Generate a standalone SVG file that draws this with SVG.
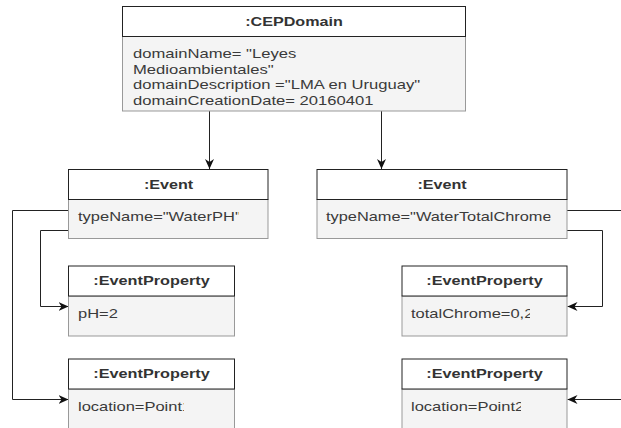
<svg xmlns="http://www.w3.org/2000/svg" width="621" height="428" viewBox="0 0 621 428">
<style>
.hd{fill:#ffffff;stroke:#222222;stroke-width:1}
.bd{fill:#f4f4f4;stroke:#999999;stroke-width:1}
.t{font-family:"Liberation Sans",Arial,sans-serif;font-size:12.5px;fill:#3a3a3a}
.h{font-weight:bold;text-anchor:middle;fill:#333333}
.c{fill:none;stroke:#222222;stroke-width:1}
</style>
<defs>
<marker id="arr" viewBox="0 0 10 9" refX="10" refY="4.5" markerWidth="10" markerHeight="9" orient="auto" markerUnits="userSpaceOnUse">
<path d="M0,0 L10,4.5 L0,9 L3,4.5 z" fill="#111111"/>
</marker>
<clipPath id="cEL"><rect x="60" y="200" width="179" height="38"/></clipPath>
<clipPath id="cER"><rect x="310" y="200" width="240.5" height="38"/></clipPath>
<clipPath id="cPL2"><rect x="60" y="390" width="124" height="38"/></clipPath>
<clipPath id="cPR1"><rect x="400" y="297" width="130" height="38"/></clipPath>
<clipPath id="cPR2"><rect x="400" y="390" width="121" height="38"/></clipPath>
</defs>

<g id="connectors">
<path class="c" d="M209.5,111 V169" marker-end="url(#arr)"/>
<path class="c" d="M381.5,111 V169" marker-end="url(#arr)"/>
<path class="c" d="M68.5,210.5 H12.5 V399.5 H68.5" marker-end="url(#arr)"/>
<path class="c" d="M68.5,230.5 H40.5 V306.5 H68.5" marker-end="url(#arr)"/>
<path class="c" d="M567,210.5 H621"/>
<path class="c" d="M567,230.5 H602.5 V306.5 H567.5" marker-end="url(#arr)"/>
<path class="c" d="M621,399.5 H567.5" marker-end="url(#arr)"/>
</g>

<g id="cepdomain">
<rect class="bd" x="122.5" y="36.5" width="343" height="74.5"/>
<rect class="hd" x="122.5" y="6.5" width="343" height="30"/>
<text class="t h" transform="translate(294 25.5) scale(1.29 1)">:CEPDomain</text>
<text class="t" transform="translate(133 58) scale(1.33 1)">domainName= "Leyes</text>
<text class="t" transform="translate(133 73.5) scale(1.33 1)">Medioambientales"</text>
<text class="t" transform="translate(133 89) scale(1.33 1)">domainDescription ="LMA en Uruguay"</text>
<text class="t" transform="translate(133 104.5) scale(1.33 1)">domainCreationDate= 20160401</text>
</g>

<g id="event1">
<rect class="bd" x="68.5" y="199.5" width="199.5" height="39"/>
<rect class="hd" x="68.5" y="169.5" width="199.5" height="30"/>
<text class="t h" transform="translate(168.5 188.5) scale(1.29 1)">:Event</text>
<g clip-path="url(#cEL)"><text class="t" transform="translate(78 221) scale(1.32 1)">typeName="WaterPH"</text></g>
</g>

<g id="event2">
<rect class="bd" x="317" y="199.5" width="250" height="39"/>
<rect class="hd" x="317" y="169.5" width="250" height="30"/>
<text class="t h" transform="translate(442 188.5) scale(1.29 1)">:Event</text>
<g clip-path="url(#cER)"><text class="t" transform="translate(326 221) scale(1.31 1)">typeName="WaterTotalChrome"</text></g>
</g>

<g id="prop_ph">
<rect class="bd" x="68.5" y="296" width="166" height="40"/>
<rect class="hd" x="68.5" y="266" width="166" height="30"/>
<text class="t h" transform="translate(151.5 285) scale(1.3 1)">:EventProperty</text>
<text class="t" transform="translate(78 317.5) scale(1.32 1)">pH=2</text>
</g>

<g id="prop_loc1">
<rect class="bd" x="68.5" y="389" width="166" height="50"/>
<rect class="hd" x="68.5" y="359" width="166" height="30"/>
<text class="t h" transform="translate(151.5 378) scale(1.3 1)">:EventProperty</text>
<g clip-path="url(#cPL2)"><text class="t" transform="translate(78 410.5) scale(1.32 1)">location=Point1</text></g>
</g>

<g id="prop_chrome">
<rect class="bd" x="402" y="296" width="165" height="40"/>
<rect class="hd" x="402" y="266" width="165" height="30"/>
<text class="t h" transform="translate(484.5 285) scale(1.3 1)">:EventProperty</text>
<g clip-path="url(#cPR1)"><text class="t" transform="translate(411 317.5) scale(1.32 1)">totalChrome=0,2</text></g>
</g>

<g id="prop_loc2">
<rect class="bd" x="402" y="389" width="165" height="50"/>
<rect class="hd" x="402" y="359" width="165" height="30"/>
<text class="t h" transform="translate(484.5 378) scale(1.3 1)">:EventProperty</text>
<g clip-path="url(#cPR2)"><text class="t" transform="translate(411 410.5) scale(1.32 1)">location=Point2</text></g>
</g>
</svg>
